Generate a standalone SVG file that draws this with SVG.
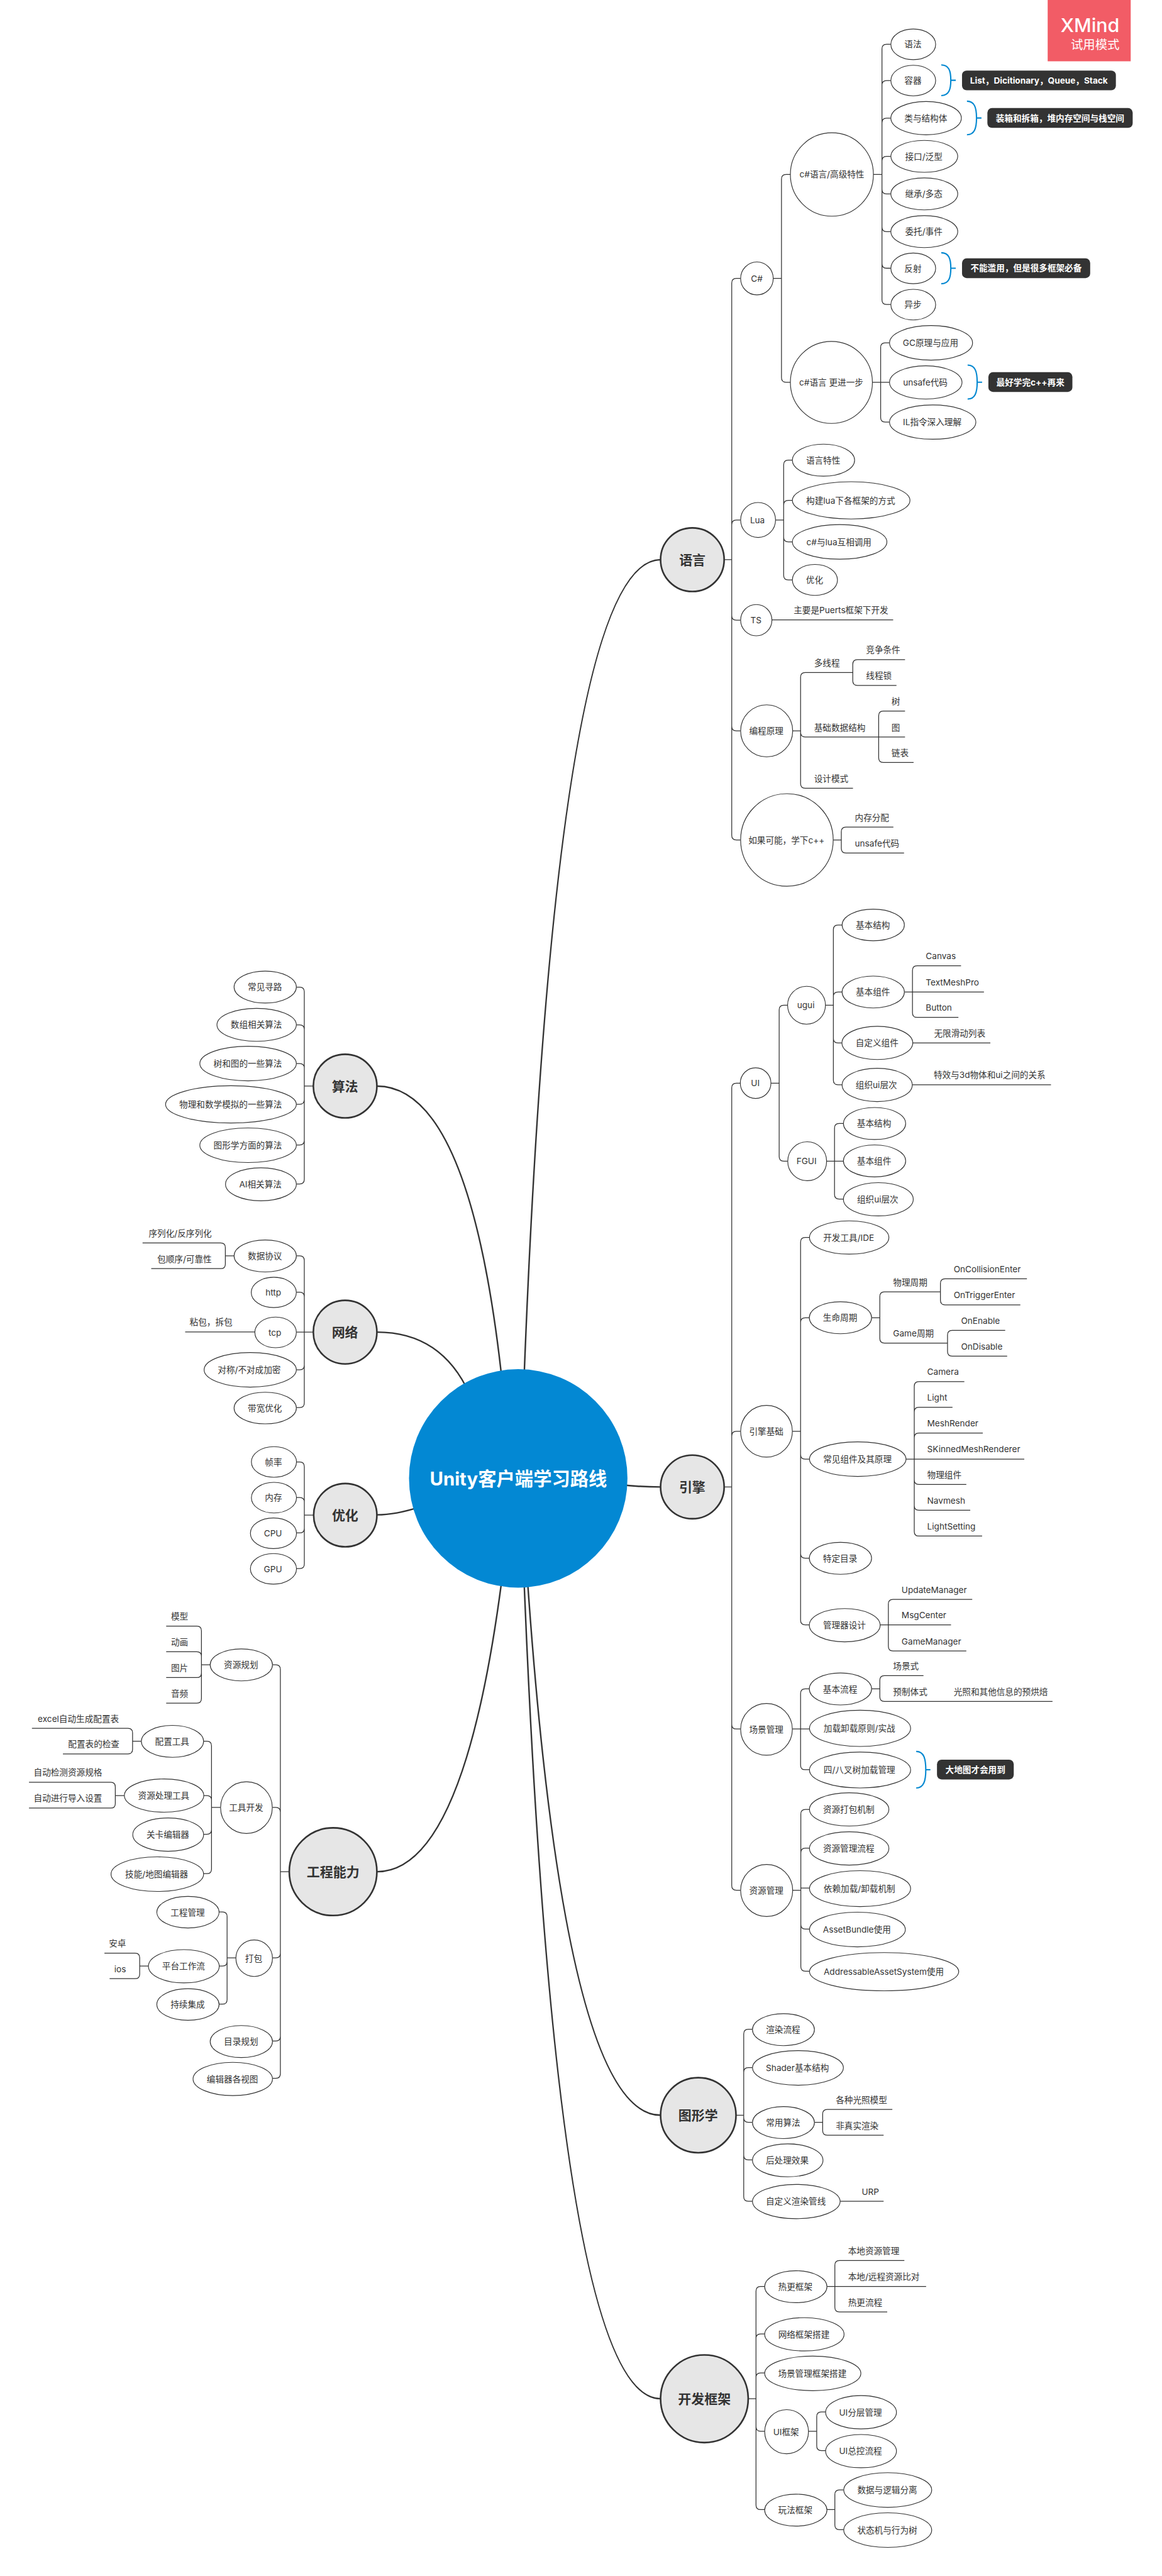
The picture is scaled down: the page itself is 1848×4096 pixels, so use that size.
<svg xmlns="http://www.w3.org/2000/svg" width="1848" height="4096" viewBox="0 0 1848 4096">
<style>
text{font-family:Inter,"Noto Sans CJK SC","Noto Sans",sans-serif;font-size:26px;fill:#333}
.n ellipse{fill:#fff;stroke:#333;stroke-width:2.2}
.n text{text-anchor:middle}
.m ellipse{fill:#e6e6e6;stroke:#333;stroke-width:5}
.m text{font-size:40px;font-weight:700;text-anchor:middle}
.e text{text-anchor:end}
#conn path{fill:none;stroke:#333;stroke-width:2.4}
#conn .c0{stroke-width:4.6}
.b path{fill:none;stroke:#0288d1;stroke-width:4}
.b rect{fill:#333}
.b text{fill:#fff;font-weight:700;text-anchor:middle}
</style>
<rect width="1848" height="4096" fill="#fff"/>
<g transform="scale(0.52396)">
<g id="conn">
<path class="c0" d="M2005 1698.5Q1686 1698.5 1590 4200"/>
<path class="c0" d="M1880 4505Q1940 4512.5 2005 4512.5"/>
<path class="c0" d="M2005 6419Q1713 6419 1600 4780"/>
<path class="c0" d="M2005 7279.5Q1690 7279.5 1590 4780"/>
<path class="c0" d="M1144 3296Q1428 3296 1525 4200"/>
<path class="c0" d="M1144 4042.6Q1340 4042.6 1425 4230"/>
<path class="c0" d="M1144 4597Q1200 4597 1275 4573"/>
<path class="c0" d="M1144.5 5680Q1410 5680 1525 4780"/>
<!-- language -->
<path d="M2198 1698.5H2221M2248 845H2235q-14 0-14 14V2535q0 14 14 14H2248M2248 1578H2235q-14 0-14 14M2248 1882H2235q-14 0-14-14M2248 2218H2235q-14 0-14-14"/>
<path d="M2347 845H2372M2399 529.5H2386q-14 0-14 14V1146q0 14 14 14H2399"/>
<path d="M2651 529.5H2677M2704 134.5H2691q-14 0-14 14V910q0 14 14 14H2704M2704 244.5H2691q-14 0-14 14M2704 358.5H2691q-14 0-14 14M2704 474.5H2691q-14 0-14 14M2704 588.5H2691q-14 0-14-14M2704 703H2691q-14 0-14-14M2704 814H2691q-14 0-14-14"/>
<path d="M2648 1160H2700M2700 1040.5H2687q-14 0-14 14V1267q0 14 14 14H2700"/>
<path d="M2354 1578H2378.6M2405 1396.5H2392.6q-14 0-14 14V1746q0 14 14 14H2405M2405 1518.5H2392.6q-14 0-14 14M2405 1644.5H2392.6q-14 0-14-14"/>
<path d="M2343 1881H2711"/>
<path d="M2406 2218H2430M2589 2041H2444q-14 0-14 14V2378q0 14 14 14H2589M2667 2236.7H2444q-14 0-14-14"/>
<path d="M2747 2002H2602.4q-14 0-14 14V2066q0 14 14 14H2721"/>
<path d="M2747 2158H2681q-14 0-14 14V2300q0 14 14 14H2773M2667 2236.7H2747"/>
<path d="M2529 2549H2553.6M2711.6 2510H2567.6q-14 0-14 14V2574.5q0 14 14 14H2744"/>
<!-- engine -->
<path d="M2198 4512.5H2221M2247 3287H2235q-14 0-14 14V5722.5q0 14 14 14H2248M2248 4343.5H2235q-14 0-14 14M2248 5247H2235q-14 0-14-14"/>
<path d="M2340 3287H2365M2391 3050.5H2379q-14 0-14 14V3510q0 14 14 14H2391"/>
<path d="M2505 3050.5H2529.5M2556 2807H2543.5q-14 0-14 14V3278q0 14 14 14H2556M2556 3010.5H2543.5q-14 0-14 14M2556 3165H2543.5q-14 0-14-14"/>
<path d="M2745.5 3010.5H2986.6M2917 2931H2783.6q-14 0-14 14V3073.5q0 14 14 14H2909"/>
<path d="M2770.5 3165H3006M2769 3292H3190"/>
<path d="M2509 3524H2560M2560 3409.5H2547q-14 0-14 14V3625q0 14 14 14H2560"/>
<path d="M2405 4343.5H2430M2457 3755.5H2444q-14 0-14 14V4917q0 14 14 14H2457M2457 3999H2444q-14 0-14 14M2457 4428H2444q-14 0-14-14M2457 4728.6H2444q-14 0-14-14"/>
<path d="M2645.5 3999H2670.5M2854 3920.5H2684.5q-14 0-14 14V4062q0 14 14 14H2876"/>
<path d="M3117 3881H2868.5q-14 0-14 14V3946q0 14 14 14H3097"/>
<path d="M3051 4037.5H2890q-14 0-14 14V4101.5q0 14 14 14H3057"/>
<path d="M2750 4428H3109M2927 4193H2789q-14 0-14 14V4647.6q0 14 14 14H2981M2891 4270.5H2789q-14 0-14 14M2983 4349H2789q-14 0-14 14M2933 4505H2789q-14 0-14-14M2945 4583H2789q-14 0-14-14"/>
<path d="M2671.5 4931H2886.6M2951 4853.6H2710.4q-14 0-14 14V4996q0 14 14 14H2933"/>
<path d="M2405 5247H2457M2457 5125H2444q-14 0-14 14V5356.6q0 14 14 14H2457"/>
<path d="M2645.5 5125H2670.5M2803 5085H2684.5q-14 0-14 14V5149.4q0 14 14 14H3194.6"/>
<path d="M2406 5736.5H2430.7M2457 5729.6H2430.7M2457 5491H2444.7q-14 0-14 14V5968q0 14 14 14H2457M2457 5608.7H2444.7q-14 0-14 14M2457 5854H2444.7q-14 0-14-14"/>
<!-- graphics -->
<path d="M2234 6419H2257.4M2284 6158H2271.4q-14 0-14 14V6666q0 14 14 14H2284M2284 6274.5H2271.4q-14 0-14 14M2284 6440.5H2271.4q-14 0-14-14M2284 6554.6H2271.4q-14 0-14-14"/>
<path d="M2472 6440.5H2497M2708.5 6401.5H2511q-14 0-14 14V6465.6q0 14 14 14H2682"/>
<path d="M2550 6680H2682"/>
<!-- framework -->
<path d="M2270.6 7279.5H2294.7M2321 6938.6H2308.7q-14 0-14 14V7602q0 14 14 14H2321M2321 7083H2308.7q-14 0-14 14M2321 7201.4H2308.7q-14 0-14 14M2321 7378H2308.7q-14 0-14-14"/>
<path d="M2510 6938.6H2811M2745 6860H2548q-14 0-14 14V7002q0 14 14 14H2693"/>
<path d="M2454 7378H2479M2506 7319.6H2493q-14 0-14 14V7423q0 14 14 14H2506"/>
<path d="M2510 7616H2534M2561 7556H2548q-14 0-14 14V7663q0 14 14 14H2561"/>
<!-- left -->
<path d="M951 3296H923.6M899.5 2995.5H909.6q14 0 14 14V3579q0 14-14 14H899.5M899.5 3110H909.6q14 0 14 14M899.5 3227.5H909.6q14 0 14 14M899.5 3351H909.6q14 0 14-14M899.5 3474.6H909.6q14 0 14-14"/>
<path d="M951 4042.6H899.5M899.5 3811H909.6q14 0 14 14V4257.4q0 14-14 14H899.5M899.5 3921.5H909.6q14 0 14 14M899.5 4157H909.6q14 0 14-14"/>
<path d="M710.5 3811H684M432.7 3772H670q14 0 14 14V3836q0 14-14 14H459"/>
<path d="M773.5 4042H562"/>
<path d="M952.4 4598H923.7M900 4436.6H909.7q14 0 14 14V4746q0 14-14 14H900M900 4544.4H909.7q14 0 14 14M900 4652H909.7q14 0 14-14"/>
<path d="M878 5680H851M827 5052H837q14 0 14 14V6293q0 14-14 14H827M827 5485H837q14 0 14 14M827 5941.5H837q14 0 14-14M827 6194H837q14 0 14-14"/>
<path d="M638 5052H611.4M504.4 4935H597.4q14 0 14 14V5154.6q0 14-14 14H504.4M504.4 5012.6H597.4q14 0 14 14M504.4 5091H597.4q14 0 14-14"/>
<path d="M669.4 5485H642M618 5284H628q14 0 14 14V5672q0 14-14 14H618M618 5449H628q14 0 14 14M618 5566.5H628q14 0 14-14"/>
<path d="M429 5284H402.4M97 5245H388.4q14 0 14 14V5308.6q0 14-14 14H191"/>
<path d="M377.5 5449H350M88 5408.7H336q14 0 14 14V5473q0 14-14 14H88"/>
<path d="M716 5941.5H689.3M665 5802H675.3q14 0 14 14V6068q0 14-14 14H665M665 5966.4H675.3q14 0 14-14"/>
<path d="M450.5 5966.4H424M317 5927H410q14 0 14 14V5990.7q0 14-14 14H332.7"/>
</g>
<g id="center"><circle cx="1573" cy="4486.5" r="331.5" fill="#0388d3"/><text x="1573.5" y="4508" text-anchor="middle" style="font-size:56px;font-weight:700;fill:#fff">Unity客户端学习路线</text></g>
<g id="m1" class="m"><ellipse cx="2101.5" cy="1698.5" rx="96.5" ry="96.5"/><text x="2101.5" y="1713.5">语言</text></g>
<g id="m2" class="m"><ellipse cx="2101.5" cy="4512.5" rx="96.5" ry="96.5"/><text x="2101" y="4527.5">引擎</text></g>
<g id="m3" class="m"><ellipse cx="2119.5" cy="6419" rx="114.5" ry="114"/><text x="2119" y="6434">图形学</text></g>
<g id="m4" class="m"><ellipse cx="2138" cy="7279.5" rx="133" ry="133"/><text x="2138" y="7294.5">开发框架</text></g>
<g id="m5" class="m"><ellipse cx="1047.5" cy="3296" rx="96.5" ry="96.5"/><text x="1047" y="3311">算法</text></g>
<g id="m6" class="m"><ellipse cx="1047.5" cy="4042.6" rx="96.5" ry="96.5"/><text x="1047" y="4057.6">网络</text></g>
<g id="m7" class="m"><ellipse cx="1048" cy="4598" rx="96" ry="96"/><text x="1047.5" y="4613">优化</text></g>
<g id="m8" class="m"><ellipse cx="1011" cy="5680" rx="133" ry="133"/><text x="1011" y="5695">工程能力</text></g>

<g id="n1" class="n"><ellipse cx="2297.5" cy="845" rx="49.5" ry="50"/><text x="2297" y="854.5">C#</text></g>
<g id="n2" class="n"><ellipse cx="2525" cy="529.5" rx="126" ry="126.5"/><text x="2525" y="539">c#语言/高级特性</text></g>
<g id="n3" class="n"><ellipse cx="2772" cy="134.5" rx="68" ry="46.5"/><text x="2771" y="144">语法</text></g>
<g id="n4" class="n"><ellipse cx="2772" cy="244.5" rx="68" ry="46.5"/><text x="2771" y="254">容器</text></g>
<g id="n5" class="n"><ellipse cx="2811" cy="358.5" rx="107" ry="50.5"/><text x="2810" y="368">类与结构体</text></g>
<g id="n6" class="n"><ellipse cx="2805.5" cy="474.5" rx="101.5" ry="48.5"/><text x="2804" y="484">接口/泛型</text></g>
<g id="n7" class="n"><ellipse cx="2805.5" cy="588.5" rx="101.5" ry="48.5"/><text x="2804" y="598">继承/多态</text></g>
<g id="n8" class="n"><ellipse cx="2805.5" cy="703" rx="101.5" ry="48.5"/><text x="2804" y="712.5">委托/事件</text></g>
<g id="n9" class="n"><ellipse cx="2772" cy="814.5" rx="68" ry="46.5"/><text x="2771" y="824">反射</text></g>
<g id="n10" class="n"><ellipse cx="2772" cy="924.5" rx="68" ry="46.5"/><text x="2771" y="934">异步</text></g>
<g id="n11" class="n"><ellipse cx="2523.5" cy="1160.5" rx="124.5" ry="124.5"/><text x="2523" y="1170">c#语言 更进一步</text></g>
<g id="n12" class="n"><ellipse cx="2826" cy="1040.5" rx="126" ry="52.5"/><text x="2824.5" y="1050">GC原理与应用</text></g>
<g id="n13" class="n"><ellipse cx="2810" cy="1160.5" rx="110" ry="50.5"/><text x="2808.5" y="1170">unsafe代码</text></g>
<g id="n14" class="n"><ellipse cx="2831" cy="1281" rx="131" ry="52"/><text x="2829.5" y="1290.5">IL指令深入理解</text></g>
<g id="n15" class="n"><ellipse cx="2301" cy="1578" rx="53" ry="53"/><text x="2299" y="1587.5">Lua</text></g>
<g id="n16" class="n"><ellipse cx="2499.5" cy="1396.5" rx="94.5" ry="48.5"/><text x="2498.5" y="1406">语言特性</text></g>
<g id="n17" class="n"><ellipse cx="2583.5" cy="1518.5" rx="178.5" ry="56.5"/><text x="2582" y="1528">构建lua下各框架的方式</text></g>
<g id="n18" class="n"><ellipse cx="2548.5" cy="1644.5" rx="143.5" ry="52.5"/><text x="2546.5" y="1654">c#与lua互相调用</text></g>
<g id="n19" class="n"><ellipse cx="2473.5" cy="1760" rx="68.5" ry="47"/><text x="2472.5" y="1769.5">优化</text></g>
<g id="n20" class="n"><ellipse cx="2295.5" cy="1882" rx="47.5" ry="47.5"/><text x="2294.5" y="1891.5">TS</text></g>
<g id="n21" class="n"><ellipse cx="2327" cy="2218" rx="79" ry="79"/><text x="2326" y="2227.5">编程原理</text></g>
<g id="n22" class="n"><ellipse cx="2388.5" cy="2549" rx="140.5" ry="140.5"/><text x="2387" y="2558.5">如果可能，学下c++</text></g>

<g id="n30" class="n"><ellipse cx="2293.5" cy="3287" rx="46.5" ry="46.5"/><text x="2292.5" y="3296.5">UI</text></g>
<g id="n31" class="n"><ellipse cx="2448" cy="3050.5" rx="57.5" ry="57.5"/><text x="2446" y="3060">ugui</text></g>
<g id="n32" class="n"><ellipse cx="2650.5" cy="2807" rx="94.5" ry="48"/><text x="2649.5" y="2816.5">基本结构</text></g>
<g id="n33" class="n"><ellipse cx="2650.5" cy="3010.5" rx="94.5" ry="48.5"/><text x="2649.5" y="3020">基本组件</text></g>
<g id="n34" class="n"><ellipse cx="2663" cy="3165" rx="107.5" ry="50.5"/><text x="2662" y="3174.5">自定义组件</text></g>
<g id="n35" class="n"><ellipse cx="2662.5" cy="3292.5" rx="106.5" ry="50.5"/><text x="2660" y="3302">组织ui层次</text></g>
<g id="n36" class="n"><ellipse cx="2450" cy="3524" rx="59" ry="59"/><text x="2448" y="3533.5">FGUI</text></g>
<g id="n37" class="n"><ellipse cx="2654.5" cy="3409.5" rx="94.5" ry="48.5"/><text x="2653" y="3419">基本结构</text></g>
<g id="n38" class="n"><ellipse cx="2654.5" cy="3523" rx="94.5" ry="48.5"/><text x="2653" y="3532.5">基本组件</text></g>
<g id="n39" class="n"><ellipse cx="2666" cy="3639.5" rx="106" ry="50.5"/><text x="2664" y="3649">组织ui层次</text></g>
<g id="n40" class="n"><ellipse cx="2326.5" cy="4343.5" rx="78.5" ry="78.5"/><text x="2326" y="4353">引擎基础</text></g>
<g id="n41" class="n"><ellipse cx="2577.5" cy="3755.5" rx="120.5" ry="50.5"/><text x="2576" y="3765">开发工具/IDE</text></g>
<g id="n42" class="n"><ellipse cx="2551" cy="3999" rx="94.5" ry="48.5"/><text x="2550" y="4008.5">生命周期</text></g>
<g id="n43" class="n"><ellipse cx="2603.5" cy="4428" rx="146.5" ry="52.5"/><text x="2602.5" y="4437.5">常见组件及其原理</text></g>
<g id="n44" class="n"><ellipse cx="2551" cy="4729" rx="94.5" ry="48.5"/><text x="2550" y="4738.5">特定目录</text></g>
<g id="n45" class="n"><ellipse cx="2564" cy="4932" rx="107.5" ry="50.5"/><text x="2563" y="4941.5">管理器设计</text></g>
<g id="n46" class="n"><ellipse cx="2326.5" cy="5248" rx="78.5" ry="78.5"/><text x="2326" y="5257.5">场景管理</text></g>
<g id="n47" class="n"><ellipse cx="2551" cy="5125.5" rx="94.5" ry="48.5"/><text x="2550" y="5135">基本流程</text></g>
<g id="n48" class="n"><ellipse cx="2610.5" cy="5245" rx="153.5" ry="55"/><text x="2608.5" y="5254.5">加载卸载原则/实战</text></g>
<g id="n49" class="n"><ellipse cx="2610.5" cy="5371.5" rx="153.5" ry="54.5"/><text x="2608.5" y="5381">四/八叉树加载管理</text></g>
<g id="n50" class="n"><ellipse cx="2327" cy="5737" rx="79" ry="79"/><text x="2326" y="5746.5">资源管理</text></g>
<g id="n51" class="n"><ellipse cx="2577.5" cy="5491" rx="120.5" ry="50.5"/><text x="2576" y="5500.5">资源打包机制</text></g>
<g id="n52" class="n"><ellipse cx="2577.5" cy="5609.5" rx="120.5" ry="50.5"/><text x="2576" y="5619">资源管理流程</text></g>
<g id="n53" class="n"><ellipse cx="2610.5" cy="5731.5" rx="153.5" ry="54.5"/><text x="2608.5" y="5741">依赖加载/卸载机制</text></g>
<g id="n54" class="n"><ellipse cx="2602.5" cy="5855.5" rx="145.5" ry="52.5"/><text x="2601" y="5864">AssetBundle使用</text></g>
<g id="n55" class="n"><ellipse cx="2683.5" cy="5983.5" rx="226.5" ry="58"/><text x="2682.5" y="5992">AddressableAssetSystem使用</text></g>

<g id="n60" class="n"><ellipse cx="2378" cy="6159.5" rx="94" ry="48.5"/><text x="2377" y="6168.5">渲染流程</text></g>
<g id="n61" class="n"><ellipse cx="2422" cy="6275.5" rx="138" ry="52.5"/><text x="2420.5" y="6284.5">Shader基本结构</text></g>
<g id="n62" class="n"><ellipse cx="2378" cy="6441.5" rx="94" ry="48.5"/><text x="2377" y="6450.5">常用算法</text></g>
<g id="n63" class="n"><ellipse cx="2391" cy="6556" rx="107" ry="50"/><text x="2389.5" y="6565">后处理效果</text></g>
<g id="n64" class="n"><ellipse cx="2417" cy="6681" rx="133" ry="52"/><text x="2415.5" y="6690">自定义渲染管线</text></g>

<g id="n70" class="n"><ellipse cx="2415.5" cy="6939.5" rx="94.5" ry="48.5"/><text x="2414" y="6949">热更框架</text></g>
<g id="n71" class="n"><ellipse cx="2441.5" cy="7084" rx="120.5" ry="50.5"/><text x="2440" y="7093.5">网络框架搭建</text></g>
<g id="n72" class="n"><ellipse cx="2467" cy="7202.5" rx="146" ry="52.5"/><text x="2465.5" y="7212">场景管理框架搭建</text></g>
<g id="n73" class="n"><ellipse cx="2387.5" cy="7379.5" rx="66.5" ry="67"/><text x="2386" y="7389">UI框架</text></g>
<g id="n74" class="n"><ellipse cx="2613.5" cy="7320.5" rx="107.5" ry="50.5"/><text x="2612" y="7330">UI分层管理</text></g>
<g id="n75" class="n"><ellipse cx="2613.5" cy="7438.5" rx="107.5" ry="50.5"/><text x="2612" y="7448">UI总控流程</text></g>
<g id="n76" class="n"><ellipse cx="2415.5" cy="7617.5" rx="94.5" ry="48.5"/><text x="2414" y="7627">玩法框架</text></g>
<g id="n77" class="n"><ellipse cx="2694.5" cy="7556.5" rx="133.5" ry="52.5"/><text x="2693" y="7566">数据与逻辑分离</text></g>
<g id="n78" class="n"><ellipse cx="2694.5" cy="7678" rx="133.5" ry="52.5"/><text x="2693" y="7687.5">状态机与行为树</text></g>

<g id="n80" class="n"><ellipse cx="805" cy="2995.5" rx="94.5" ry="48.5"/><text x="804" y="3005">常见寻路</text></g>
<g id="n81" class="n"><ellipse cx="779" cy="3110" rx="120.5" ry="50"/><text x="778" y="3119.5">数组相关算法</text></g>
<g id="n82" class="n"><ellipse cx="753" cy="3227.5" rx="146.5" ry="52.5"/><text x="752" y="3237">树和图的一些算法</text></g>
<g id="n83" class="n"><ellipse cx="701" cy="3351.5" rx="198.5" ry="56.5"/><text x="700" y="3361">物理和数学模拟的一些算法</text></g>
<g id="n84" class="n"><ellipse cx="753" cy="3475.5" rx="146.5" ry="52.5"/><text x="752" y="3485">图形学方面的算法</text></g>
<g id="n85" class="n"><ellipse cx="792" cy="3594" rx="107.5" ry="50"/><text x="790.5" y="3603.5">AI相关算法</text></g>
<g id="n86" class="n"><ellipse cx="805" cy="3811.5" rx="94.5" ry="48.5"/><text x="804" y="3821">数据协议</text></g>
<g id="n87" class="n"><ellipse cx="831" cy="3922" rx="68.5" ry="46"/><text x="829.5" y="3931.5">http</text></g>
<g id="n88" class="n"><ellipse cx="836.5" cy="4043.5" rx="63" ry="46.5"/><text x="834.5" y="4053">tcp</text></g>
<g id="n89" class="n"><ellipse cx="759.5" cy="4157" rx="140" ry="52.5"/><text x="756.5" y="4166.5">对称/不对成加密</text></g>
<g id="n90" class="n"><ellipse cx="805" cy="4273" rx="94.5" ry="48"/><text x="804" y="4282.5">带宽优化</text></g>
<g id="n91" class="n"><ellipse cx="831.5" cy="4436.6" rx="68.5" ry="46.5"/><text x="830" y="4446">帧率</text></g>
<g id="n92" class="n"><ellipse cx="831.5" cy="4545" rx="68.5" ry="46.5"/><text x="830" y="4554.5">内存</text></g>
<g id="n93" class="n"><ellipse cx="830" cy="4653" rx="70" ry="46.5"/><text x="828.5" y="4662.5">CPU</text></g>
<g id="n94" class="n"><ellipse cx="830" cy="4761" rx="70" ry="46.5"/><text x="828.5" y="4770.5">GPU</text></g>
<g id="n95" class="n"><ellipse cx="732.5" cy="5052.5" rx="94.5" ry="48.5"/><text x="731.5" y="5062">资源规划</text></g>
<g id="n96" class="n"><ellipse cx="748" cy="5485.5" rx="78.5" ry="78.5"/><text x="747" y="5495">工具开发</text></g>
<g id="n97" class="n"><ellipse cx="523.5" cy="5284.5" rx="94.5" ry="48.5"/><text x="522.5" y="5294">配置工具</text></g>
<g id="n98" class="n"><ellipse cx="498" cy="5449" rx="120.5" ry="50.5"/><text x="497" y="5458.5">资源处理工具</text></g>
<g id="n99" class="n"><ellipse cx="510.5" cy="5567.5" rx="107.5" ry="50.5"/><text x="509.5" y="5577">关卡编辑器</text></g>
<g id="n100" class="n"><ellipse cx="477.5" cy="5687.5" rx="140.5" ry="52.5"/><text x="475.5" y="5697">技能/地图编辑器</text></g>
<g id="n101" class="n"><ellipse cx="771.5" cy="5942.5" rx="55.5" ry="55.5"/><text x="770" y="5952">打包</text></g>
<g id="n102" class="n"><ellipse cx="570.5" cy="5803" rx="94.5" ry="48"/><text x="569.5" y="5812.5">工程管理</text></g>
<g id="n103" class="n"><ellipse cx="558" cy="5967" rx="107.5" ry="50.5"/><text x="557" y="5976.5">平台工作流</text></g>
<g id="n104" class="n"><ellipse cx="570.5" cy="6083" rx="94.5" ry="48"/><text x="569.5" y="6092.5">持续集成</text></g>
<g id="n105" class="n"><ellipse cx="732.5" cy="6195.5" rx="94.5" ry="48.5"/><text x="731.5" y="6205">目录规划</text></g>
<g id="n106" class="n"><ellipse cx="706.5" cy="6309" rx="120.5" ry="50.5"/><text x="705.5" y="6318.5">编辑器各视图</text></g>

<g id="l1"><text x="2409" y="1861">主要是Puerts框架下开发</text></g>
<g id="l2"><text x="2471" y="2021">多线程</text></g>
<g id="l3"><text x="2628.6" y="1982">竞争条件</text></g>
<g id="l4"><text x="2628.6" y="2060">线程锁</text></g>
<g id="l5"><text x="2471" y="2217">基础数据结构</text></g>
<g id="l6"><text x="2706" y="2138">树</text></g>
<g id="l7"><text x="2706" y="2217">图</text></g>
<g id="l8"><text x="2706" y="2294">链表</text></g>
<g id="l9"><text x="2471" y="2372">设计模式</text></g>
<g id="l10"><text x="2594.7" y="2490">内存分配</text></g>
<g id="l11"><text x="2594.7" y="2568.5">unsafe代码</text></g>
<g id="l12"><text x="2810" y="2911">Canvas</text></g>
<g id="l13"><text x="2810" y="2990">TextMeshPro</text></g>
<g id="l14"><text x="2810" y="3067.5">Button</text></g>
<g id="l15"><text x="2835" y="3145">无限滑动列表</text></g>
<g id="l16"><text x="2834" y="3272">特效与3d物体和ui之间的关系</text></g>
<g id="l17"><text x="2710.7" y="3900.5">物理周期</text></g>
<g id="l18"><text x="2894.6" y="3861">OnCollisionEnter</text></g>
<g id="l19"><text x="2894.6" y="3940">OnTriggerEnter</text></g>
<g id="l20"><text x="2710.7" y="4056">Game周期</text></g>
<g id="l21"><text x="2917" y="4017.5">OnEnable</text></g>
<g id="l22"><text x="2917" y="4095.5">OnDisable</text></g>
<g id="l23"><text x="2814.3" y="4173">Camera</text></g>
<g id="l24"><text x="2814.3" y="4250.5">Light</text></g>
<g id="l25"><text x="2814.3" y="4329">MeshRender</text></g>
<g id="l26"><text x="2814.3" y="4407">SKinnedMeshRenderer</text></g>
<g id="l27"><text x="2814.3" y="4485">物理组件</text></g>
<g id="l28"><text x="2814.3" y="4563">Navmesh</text></g>
<g id="l29"><text x="2814.3" y="4641.6">LightSetting</text></g>
<g id="l30"><text x="2736.6" y="4833.6">UpdateManager</text></g>
<g id="l31"><text x="2736.6" y="4911">MsgCenter</text></g>
<g id="l32"><text x="2736.6" y="4990">GameManager</text></g>
<g id="l33"><text x="2710.7" y="5065">场景式</text></g>
<g id="l34"><text x="2710.7" y="5143.4">预制体式</text></g>
<g id="l35"><text x="2894.7" y="5143.4">光照和其他信息的预烘焙</text></g>
<g id="l36"><text x="2536.8" y="6381.5">各种光照模型</text></g>
<g id="l37"><text x="2536.8" y="6459.6">非真实渲染</text></g>
<g id="l38"><text x="2615.6" y="6660">URP</text></g>
<g id="l39"><text x="2574" y="6840">本地资源管理</text></g>
<g id="l40"><text x="2574" y="6918.6">本地/远程资源比对</text></g>
<g id="l41"><text x="2574" y="6996">热更流程</text></g>
<g id="l42" class="e"><text x="642.5" y="3752">序列化/反序列化</text></g>
<g id="l43" class="e"><text x="642.5" y="3830">包顺序/可靠性</text></g>
<g id="l44" class="e"><text x="705.5" y="4022">粘包，拆包</text></g>
<g id="l45" class="e"><text x="571" y="4915">模型</text></g>
<g id="l46" class="e"><text x="571" y="4992.6">动画</text></g>
<g id="l47" class="e"><text x="571" y="5071">图片</text></g>
<g id="l48" class="e"><text x="571" y="5148.6">音频</text></g>
<g id="l49" class="e"><text x="361" y="5225">excel自动生成配置表</text></g>
<g id="l50" class="e"><text x="362.6" y="5302.6">配置表的检查</text></g>
<g id="l51" class="e"><text x="310" y="5388.7">自动检测资源规格</text></g>
<g id="l52" class="e"><text x="310" y="5467">自动进行导入设置</text></g>
<g id="l53" class="e"><text x="382.5" y="5907">安卓</text></g>
<g id="l54" class="e"><text x="382.5" y="5984.7">ios</text></g>

<g id="b1" class="b"><path d="M2857 197C2880 197 2886 215 2886 243.5C2886 272 2880 290 2857 290M2886 243.5H2901"/><rect x="2920" y="214" width="467" height="60" rx="14"/><text x="3153.5" y="253.5">List，Dicitionary，Queue，Stack</text></g>
<g id="b2" class="b"><path d="M2935 307C2958 307 2964 327 2964 358C2964 389 2958 409 2935 409M2964 358H2979"/><rect x="2997" y="328" width="441" height="60" rx="14"/><text x="3217.5" y="367.5">装箱和拆箱，堆内存空间与栈空间</text></g>
<g id="b3" class="b"><path d="M2857 767C2880 767 2886 785 2886 814C2886 843 2880 861 2857 861M2886 814H2901"/><rect x="2920" y="784" width="389" height="60" rx="14"/><text x="3114.5" y="823.5">不能滥用，但是很多框架必备</text></g>
<g id="b4" class="b"><path d="M2937 1108C2960 1108 2966 1128 2966 1160C2966 1191 2960 1211 2937 1211M2966 1160H2981"/><rect x="3000" y="1129.5" width="255" height="60" rx="14"/><text x="3127.5" y="1169">最好学完c++再来</text></g>
<g id="b5" class="b"><path d="M2781 5315C2804 5315 2810 5337 2810 5370.5C2810 5404 2804 5426 2781 5426M2810 5370.5H2824"/><rect x="2844" y="5340" width="233" height="60" rx="14"/><text x="2960.5" y="5380">大地图才会用到</text></g>

<g id="xmind"><rect x="3180" y="0" width="252" height="186" fill="#f25c66"/><text x="3398" y="98" text-anchor="end" style="font-size:58px;font-weight:500;fill:#fff">XMind</text><text x="3398" y="149" text-anchor="end" style="font-size:37px;fill:#fff">试用模式</text></g>
</g>
</svg>
